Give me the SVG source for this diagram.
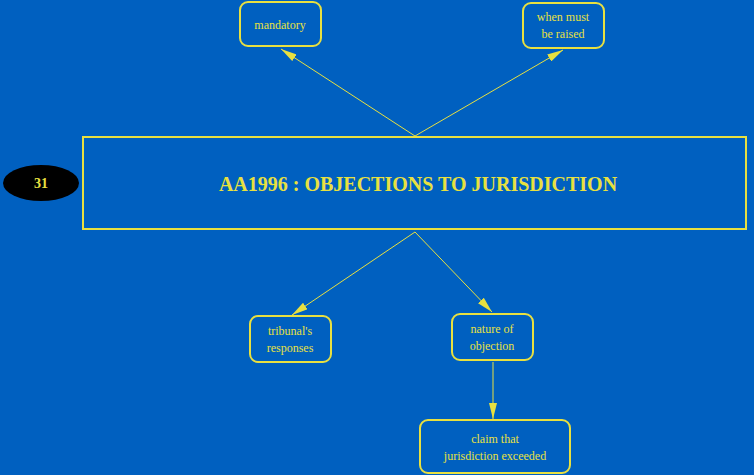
<svg xmlns="http://www.w3.org/2000/svg" width="754" height="475" viewBox="0 0 754 475">
<style>
.n{fill:none;stroke:#E8E040;stroke-width:2}
.t{fill:#E8E040;font-family:"Liberation Serif",serif;font-size:12px;text-anchor:middle}
.c line{stroke:#E8E040;stroke-width:1;marker-end:url(#a)}
</style>
<defs><marker id="a" markerWidth="16" markerHeight="8" refX="16" refY="4" orient="auto" markerUnits="userSpaceOnUse"><path d="M0,0L16,4L0,8z" fill="#E8E040"/></marker></defs>
<rect width="754" height="475" fill="#0060C0"/>
<g class="c">
<line x1="415" y1="136" x2="281" y2="49"/>
<line x1="415" y1="136" x2="563" y2="50"/>
<line x1="415" y1="232" x2="292" y2="315"/>
<line x1="415" y1="232" x2="492" y2="312"/>
<line x1="493" y1="362" x2="493" y2="419"/>
</g>
<g id="n31"><ellipse cx="41" cy="183" rx="38" ry="18" fill="#000"/><text x="41" y="188" class="t" style="font-weight:bold;font-size:14px">31</text></g>
<g id="main"><rect x="83" y="137" width="663" height="92" class="n"/><text x="418" y="191" class="t" style="font-weight:bold;font-size:20px">AA1996 : OBJECTIONS TO JURISDICTION</text></g>
<g id="mandatory"><rect x="240" y="2" width="81" height="44" rx="8" class="n"/><text x="280" y="29" class="t">mandatory</text></g>
<g id="when"><rect x="523" y="3" width="81" height="45" rx="8" class="n"/><text x="563" y="21" class="t">when must</text><text x="563" y="38" class="t">be raised</text></g>
<g id="tribunal"><rect x="250" y="316" width="81" height="46" rx="8" class="n"/><text x="290" y="335" class="t">tribunal's</text><text x="290" y="352" class="t">responses</text></g>
<g id="nature"><rect x="452" y="314" width="81" height="46" rx="8" class="n"/><text x="492" y="333" class="t">nature of</text><text x="492" y="350" class="t">objection</text></g>
<g id="claim"><rect x="420" y="420" width="150" height="53" rx="8" class="n"/><text x="495" y="443" class="t">claim that</text><text x="495" y="460" class="t">jurisdiction exceeded</text></g>
</svg>
